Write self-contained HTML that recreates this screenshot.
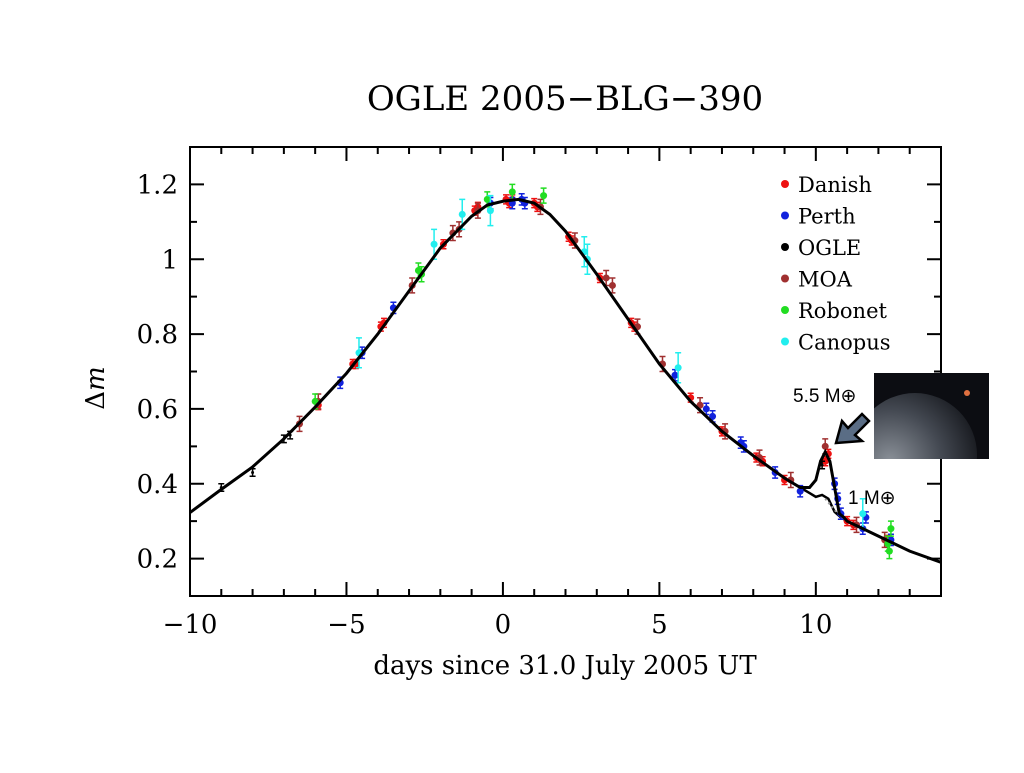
<!DOCTYPE html>
<html><head><meta charset="utf-8"><style>
body{margin:0;background:#fff;width:1024px;height:768px;overflow:hidden}
svg text{font-family:"DejaVu Serif","Liberation Serif",serif}
</style></head><body>
<svg id="chart" width="1024" height="768">
<text x="565" y="110" text-anchor="middle" font-size="34">OGLE 2005−BLG−390</text>
<g id="plot"></g>
<g id="axes"></g>
<text x="565" y="674" text-anchor="middle" font-size="26">days since 31.0 July 2005 UT</text>
<text x="104" y="388" text-anchor="middle" font-size="26" transform="rotate(-90 104 388)">Δ<tspan font-style="italic">m</tspan></text>
<defs><radialGradient id="pg" cx="0.3" cy="0.55" r="0.75"><stop offset="0" stop-color="#8a9098"/><stop offset="0.55" stop-color="#444952"/><stop offset="1" stop-color="#15171c"/></radialGradient>
<clipPath id="cl"><rect x="874" y="373" width="115" height="86"/></clipPath></defs>
<g>
<rect x="874" y="373" width="115" height="86" fill="#0c0d12"/>
<circle cx="915" cy="455" r="62" fill="url(#pg)" clip-path="url(#cl)"/>
<circle cx="967" cy="393" r="3" fill="#e07040"/>
</g>
<polygon points="836,443 842,421 848,428 862,414 869,421 855,435 862,441" fill="#5a6d85" stroke="#000" stroke-width="2.5"/>
<text x="793" y="402" font-size="19" style="font-family:'Liberation Sans',sans-serif">5.5 M⊕</text>
<text x="848" y="504" font-size="19" style="font-family:'Liberation Sans',sans-serif">1 M⊕</text>
<g id="legend"></g>
</svg>
<script>
const X0=190,X1=941,Y0=147,Y1=596,TMIN=-10,TMAX=14,MMIN=0.1,MMAX=1.3;
const xs=t=>X0+(t-TMIN)/(TMAX-TMIN)*(X1-X0);
const ys=m=>Y1-(m-MMIN)/(MMAX-MMIN)*(Y1-Y0);
const modelT=[-10,-9,-8,-7,-6,-5,-4,-3,-2,-1,-0.5,0,0.5,1,1.5,2,3,4,5,6,7,8,9,9.5,9.8,10.0,10.15,10.3,10.45,10.6,10.75,10.9,11,11.5,12,13,14];
const modelM=[0.323,0.385,0.445,0.52,0.605,0.695,0.80,0.915,1.03,1.115,1.145,1.155,1.16,1.15,1.12,1.075,0.96,0.84,0.72,0.62,0.54,0.475,0.415,0.39,0.39,0.41,0.46,0.485,0.46,0.39,0.32,0.31,0.30,0.28,0.26,0.22,0.19];
const altT=[9.5,9.8,10.0,10.2,10.4,10.6,10.8,11];
const altM=[0.39,0.375,0.365,0.37,0.36,0.325,0.31,0.30];
const seriesNames=["Danish","Perth","OGLE","MOA","Robonet","Canopus"];
const seriesColors=["#ee1111","#1122dd","#000000","#a03030","#22dd22","#22eeee"];
const danishT=[-5.9,-4.8,-4.7,-3.8,-3.9,-1.9,-0.9,-0.8,0.1,0.2,0.3,1.0,1.1,2.1,2.2,3.1,4.1,4.2,6.0,7.0,8.1,8.3,9.0,10.3,10.4,11.0,11.2,12.3];
const danishM=[0.61,0.72,0.72,0.83,0.82,1.04,1.13,1.14,1.16,1.15,1.16,1.15,1.14,1.06,1.05,0.95,0.83,0.82,0.63,0.54,0.47,0.46,0.41,0.46,0.48,0.30,0.29,0.25];
const perthT=[-5.2,-4.5,-3.5,-0.4,0.3,0.6,0.7,5.5,6.5,6.7,7.6,7.7,8.7,9.5,10.6,10.7,10.8,11.5,11.6,12.4];
const perthM=[0.67,0.75,0.87,1.15,1.15,1.16,1.15,0.69,0.60,0.58,0.51,0.50,0.43,0.38,0.40,0.36,0.32,0.28,0.31,0.25];
const ogleT=[-9,-8,-7,-6.8,10.2];
const ogleM=[0.39,0.43,0.52,0.53,0.45];
const moaT=[-6.5,-5.9,-2.9,-1.6,-1.4,-0.8,1.2,2.3,3.3,3.5,4.3,5.1,6.3,7.1,8.2,9.2,10.3,12.2,11.3];
const moaM=[0.56,0.62,0.93,1.07,1.08,1.13,1.14,1.05,0.95,0.93,0.82,0.72,0.61,0.54,0.47,0.41,0.50,0.25,0.29];
const roboT=[-6,-2.7,-2.6,-0.5,0.3,1.3,12.3,12.4,12.35];
const roboM=[0.62,0.97,0.96,1.16,1.18,1.17,0.24,0.28,0.22];
const canoT=[-4.6,-2.2,-1.3,-0.4,2.6,2.7,5.6,11.5];
const canoM=[0.75,1.04,1.12,1.13,1.02,1.00,0.71,0.32];
const seriesT=[danishT,perthT,ogleT,moaT,roboT,canoT];
const seriesM=[danishM,perthM,ogleM,moaM,roboM,canoM];
const seriesErr=[0.012,0.015,0.01,0.02,0.02,0.04];
const xTicks=[-10,-5,0,5,10];
const yTicks=[0.2,0.4,0.6,0.8,1,1.2];
const NS="http://www.w3.org/2000/svg";
function mk(tag,attrs,parent){const e=document.createElementNS(NS,tag);for(const k in attrs)e.setAttribute(k,attrs[k]);parent.appendChild(e);return e;}
const plot=document.getElementById('plot'),axes=document.getElementById('axes'),leg=document.getElementById('legend');
let d=altT.map((t,i)=>(i?'L':'M')+xs(t)+','+ys(altM[i])).join('');
let alt=mk('path',{d:d,fill:'none',stroke:'#000','stroke-width':2.5},plot);


let dot=mk('path',{d:'M'+xs(10.3)+','+ys(0.36)+'L'+xs(10.9)+','+ys(0.30),fill:'none',stroke:'#999','stroke-width':2,'stroke-dasharray':'2,3'},plot);


seriesT.forEach((ts,s)=>{
 const g=mk('g',{},plot);
 
 
 ts.forEach((t,i)=>{
  const x=xs(t),m=seriesM[s][i],e=seriesErr[s];
  const c=seriesColors[s];
  const p=mk('path',{d:`M${x},${ys(m+e)}V${ys(m-e)}M${x-3},${ys(m+e)}h6M${x-3},${ys(m-e)}h6`,stroke:c,'stroke-width':1.5,fill:'none'},g);
  
  
  const pt=mk('circle',{cx:x,cy:ys(m),r:s==2?1.5:3.5,fill:c},g);
  
  
 });
});
const cp=mk('clipPath',{id:'pc'},plot);mk('rect',{x:X0,y:Y0,width:X1-X0,height:Y1-Y0},cp);
d=modelT.map((t,i)=>(i?'L':'M')+xs(t)+','+ys(modelM[i])).join('');
let mdl=mk('path',{d:d,fill:'none',stroke:'#000','stroke-width':3,'clip-path':'url(#pc)'},plot);


let fr=mk('rect',{x:X0,y:Y0,width:X1-X0,height:Y1-Y0,fill:'none',stroke:'#000','stroke-width':2},axes);


for(let t=-10;t<=14;t++){const L=(t%5==0)?14:7;const x=xs(t);
 mk('path',{d:`M${x},${Y1}v${-L}M${x},${Y0}v${L}`,stroke:'#000','stroke-width':2},axes);}
xTicks.forEach(t=>{const tx=mk('text',{x:xs(t),y:Y1+37,'text-anchor':'middle','font-size':26},axes);tx.textContent=t<0?'−'+(-t):t;
 
 });
for(let k=1;k<=13;k++){const m=k*0.1;const L=(k%2==0)?14:7;const y=ys(m);
 mk('path',{d:`M${X0},${y}h${L}M${X1},${y}h${-L}`,stroke:'#000','stroke-width':2},axes);}
yTicks.forEach(m=>{const tx=mk('text',{x:X0-12,y:ys(m)+9,'text-anchor':'end','font-size':26},axes);tx.textContent=String(m);
 
 });
seriesNames.forEach((n,i)=>{const y=186+i*31.5;
 const g=mk('g',{},leg);
 
 
 mk('circle',{cx:785,cy:y-2,r:4,fill:seriesColors[i]},g);
 const tx=mk('text',{x:798,y:y+6,'font-size':21},g);tx.textContent=n;});
</script>
</body></html>
